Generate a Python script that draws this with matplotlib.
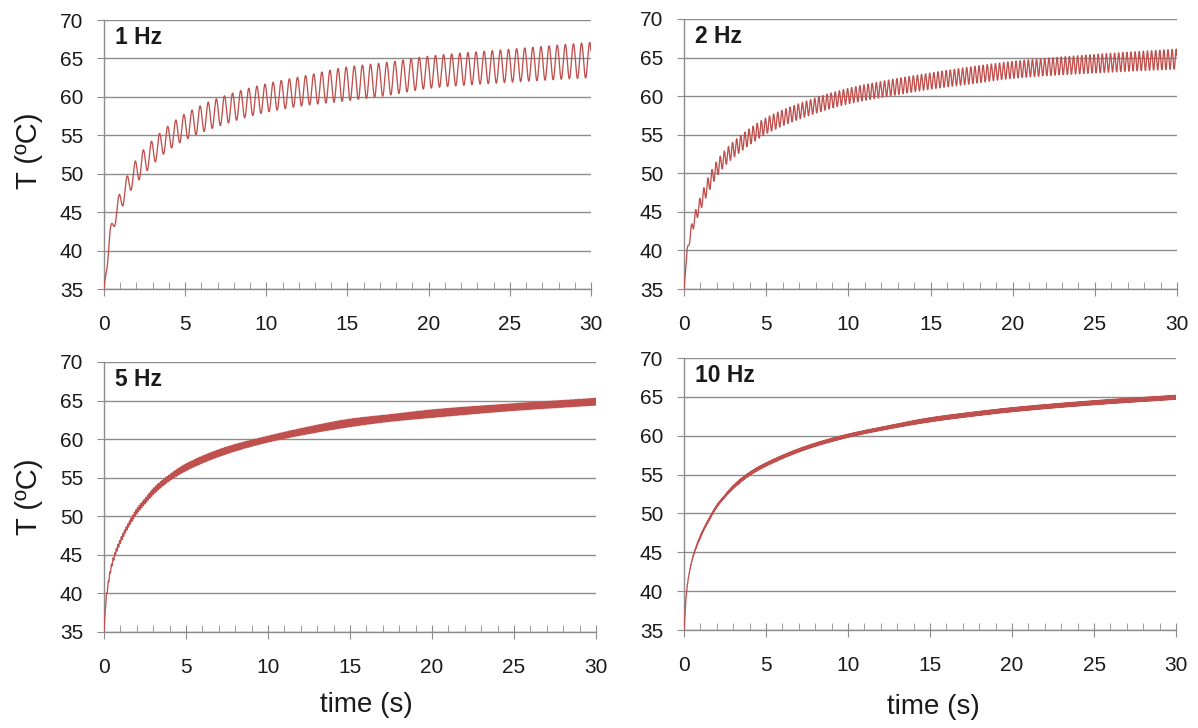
import numpy as np
import matplotlib
matplotlib.use("Agg")
import matplotlib.pyplot as plt
from matplotlib.ticker import MultipleLocator

plt.rcParams['font.family'] = ['Liberation Sans', 'DejaVu Sans']

# Values: upper / lower envelope of T (ºC) at sample times (s)
t_knots = [0, 0.1, 0.25, 0.5, 1, 1.5, 2, 2.5, 3, 4, 5, 7.5, 10, 12.5, 15, 17.5, 20, 25, 30]

hi_1hz = [35, 37.5, 41.0, 44.0, 47.7, 50.0, 51.9, 53.3, 54.4, 56.3, 57.8, 60.2, 61.7, 62.8, 63.9, 64.5, 65.3, 66.2, 67.1]
lo_1hz = [35, 36.5, 38.5, 42.0, 45.0, 47.3, 48.8, 50.0, 51.2, 53.1, 54.4, 56.5, 58.0, 58.9, 59.5, 60.2, 61.1, 61.9, 62.5]

hi_2hz = [35, 38.5, 41.0, 43.8, 47.0, 49.6, 51.6, 53.0, 54.1, 55.8, 57.2, 59.4, 61.0, 62.1, 63.0, 63.8, 64.5, 65.4, 66.1]
lo_2hz = [35, 37.5, 40.0, 42.3, 45.2, 47.6, 49.6, 51.0, 52.0, 53.7, 55.1, 57.4, 59.0, 60.0, 60.9, 61.6, 62.3, 63.0, 63.5]

hi_5hz = [35, 38.8, 41.5, 44.2, 47.1, 49.2, 51.0, 52.3, 53.6, 55.4, 56.8, 59.0, 60.4, 61.6, 62.6, 63.2, 63.8, 64.6, 65.3]
lo_5hz = [35, 38.2, 40.9, 43.6, 46.5, 48.6, 50.3, 51.6, 52.8, 54.6, 55.9, 58.1, 59.6, 60.7, 61.6, 62.3, 62.8, 63.7, 64.4]

hi_10hz = [35, 38.8, 41.6, 44.2, 47.2, 49.3, 51.1, 52.4, 53.6, 55.3, 56.5, 58.7, 60.2, 61.3, 62.3, 63.0, 63.6, 64.5, 65.2]
lo_10hz = [35, 38.6, 41.4, 44.0, 46.9, 49.0, 50.8, 52.1, 53.2, 54.9, 56.1, 58.3, 59.8, 60.9, 61.8, 62.5, 63.1, 64.0, 64.7]

labels = ['1 Hz', '2 Hz', '5 Hz', '10 Hz']
periods = [0.5, 0.25, 0.1, 0.05]   # oscillation period seen in each panel (s)
first_peak = [0.42, 0.45, 0.45, 0.45]
highs = [hi_1hz, hi_2hz, hi_5hz, hi_10hz]
lows = [lo_1hz, lo_2hz, lo_5hz, lo_10hz]

# axes boxes in figure fractions (left, bottom, width, height)
boxes = [
    (0.0868, 0.603, 0.4065, 0.3695),
    (0.5710, 0.603, 0.4115, 0.3710),
    (0.0868, 0.1319, 0.4107, 0.3709),
    (0.5710, 0.1346, 0.4107, 0.3736),
]

line_color = '#C0504D'
grid_color = '#8C8C8C'
text_color = '#1A1A1A'


def smooth_env(x, xk, yk):
    # monotone cubic (Fritsch-Carlson) through the read envelope points
    xk = np.asarray(xk, float)
    yk = np.asarray(yk, float)
    h = np.diff(xk)
    d = np.diff(yk) / h
    m = np.zeros_like(yk)
    m[0], m[-1] = d[0], d[-1]
    for k in range(1, len(xk) - 1):
        if d[k - 1] * d[k] > 0:
            w1 = 2 * h[k] + h[k - 1]
            w2 = h[k] + 2 * h[k - 1]
            m[k] = (w1 + w2) / (w1 / d[k - 1] + w2 / d[k])
    idx = np.clip(np.searchsorted(xk, x) - 1, 0, len(xk) - 2)
    s = (x - xk[idx]) / h[idx]
    h00 = 2 * s**3 - 3 * s**2 + 1
    h10 = s**3 - 2 * s**2 + s
    h01 = -2 * s**3 + 3 * s**2
    h11 = s**3 - s**2
    return (h00 * yk[idx] + h10 * h[idx] * m[idx]
            + h01 * yk[idx + 1] + h11 * h[idx] * m[idx + 1])


fig = plt.figure(figsize=(11.98, 7.28), dpi=100)

for i in range(4):
    ax = fig.add_axes(boxes[i])
    p = periods[i]
    t = np.arange(0, 30 + p / 32, p / 32)
    hi = smooth_env(t, t_knots, highs[i])
    lo = smooth_env(t, t_knots, lows[i])
    mid = (hi + lo) / 2
    half = (hi - lo) / 2
    temp = mid + half * np.cos(2 * np.pi * (t - first_peak[i]) / p)
    ax.plot(t, temp, color=line_color, lw=0.95, zorder=3)

    ax.set_xlim(0, 30)
    ax.set_ylim(35, 70)
    ax.xaxis.set_major_locator(MultipleLocator(5))
    ax.xaxis.set_minor_locator(MultipleLocator(1))
    ax.yaxis.set_major_locator(MultipleLocator(5))
    ax.grid(axis='y', color=grid_color, lw=1.0, zorder=1)
    ax.set_axisbelow(True)

    for s in ['top', 'right']:
        ax.spines[s].set_visible(False)
    for s in ['left', 'bottom']:
        ax.spines[s].set_color(grid_color)
        ax.spines[s].set_linewidth(1.0)

    ax.tick_params(axis='x', which='major', direction='inout', length=10,
                   color=grid_color, labelsize=15, labelcolor=text_color, pad=13.5)
    ax.tick_params(axis='x', which='minor', direction='in', length=5, color=grid_color)
    ax.tick_params(axis='y', which='major', direction='out', length=5,
                   color=grid_color, labelsize=15, labelcolor=text_color, pad=10)

    ax.text(0.023, 0.936, labels[i], transform=ax.transAxes, ha='left', va='center',
            fontsize=16.5, fontweight='bold', color=text_color)

# shared axis titles
fig.text(29 / 1198, 1 - 151 / 728, 'T (ºC)', rotation=90, ha='center', va='center',
         fontsize=21, color=text_color)
fig.text(29 / 1198, 1 - 497 / 728, 'T (ºC)', rotation=90, ha='center', va='center',
         fontsize=21, color=text_color)
fig.text(366 / 1198, 1 - 705 / 728, 'time (s)', ha='center', va='center',
         fontsize=20, color=text_color)
fig.text(933 / 1198, 1 - 707 / 728, 'time (s)', ha='center', va='center',
         fontsize=20, color=text_color)

fig.savefig('out.png', dpi=100)
